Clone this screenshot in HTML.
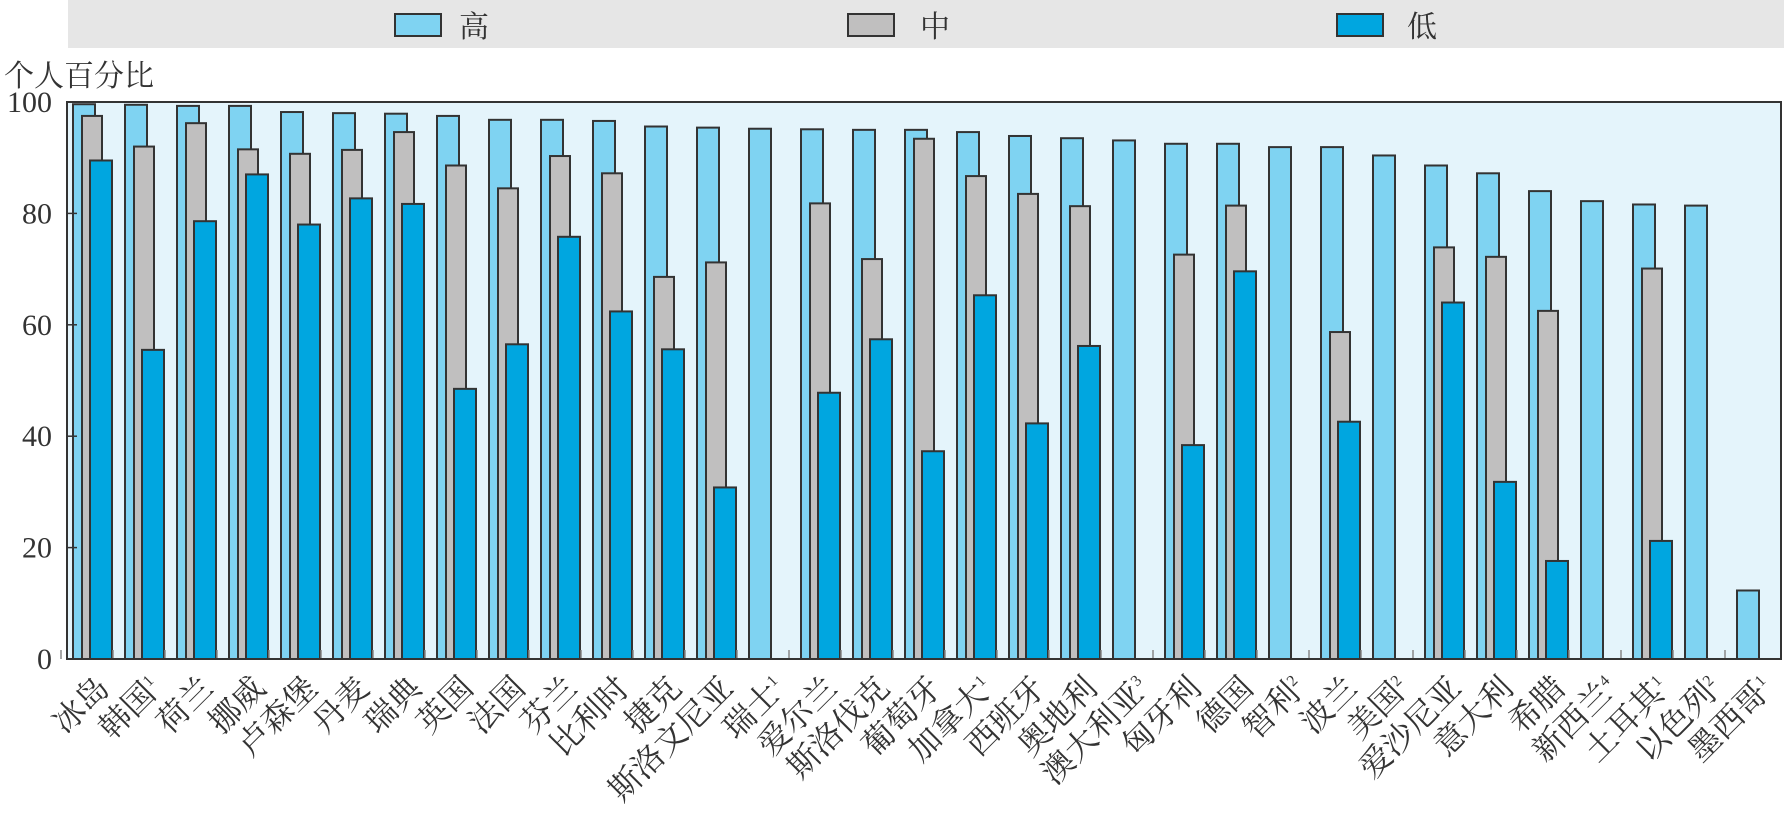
<!DOCTYPE html>
<html><head><meta charset="utf-8"><style>
html,body{margin:0;padding:0;background:#fff;}
svg{display:block;font-family:"Liberation Serif","Noto Serif CJK SC","Noto Sans CJK SC",serif;}
</style></head><body>
<svg width="1784" height="815" viewBox="0 0 1784 815" xmlns="http://www.w3.org/2000/svg">
<rect x="68" y="0" width="1716" height="48" fill="#e6e6e6"/>
<rect x="395" y="14" width="46" height="22" fill="#7fd3f2" stroke="#333" stroke-width="2"/>
<text x="459" y="37" font-size="30" fill="#333">高</text>
<rect x="848" y="14" width="46" height="22" fill="#c0bfbf" stroke="#333" stroke-width="2"/>
<text x="920" y="37" font-size="30" fill="#333">中</text>
<rect x="1337" y="14" width="46" height="22" fill="#00a6e0" stroke="#333" stroke-width="2"/>
<text x="1407" y="37" font-size="30" fill="#333">低</text>
<text x="4" y="86" font-size="30" fill="#333">个人百分比</text>
<rect x="67" y="102" width="1714" height="557" fill="#e4f4fb"/>
<g id="bars"></g>
<rect x="67" y="102" width="1714" height="557" fill="none" stroke="#333" stroke-width="2"/>
<g font-size="30" fill="#333" text-anchor="end" id="ylab"></g>
<g font-size="32" fill="#333" id="xlab"></g>
</svg>
<script>
var d=[["冰岛","",99.6,97.5,89.5],["韩国","1",99.5,92,55.5],["荷兰","",99.3,96.2,78.6],["挪威","",99.3,91.5,87],["卢森堡","",98.2,90.7,78],["丹麦","",98,91.4,82.7],["瑞典","",97.9,94.6,81.7],["英国","",97.5,88.6,48.5],["法国","",96.8,84.5,56.5],["芬兰","",96.8,90.3,75.8],["比利时","",96.6,87.2,62.4],["捷克","",95.6,68.6,55.6],["斯洛文尼亚","",95.4,71.2,30.8],["瑞士","1",95.2,null,null],["爱尔兰","",95.1,81.8,47.8],["斯洛伐克","",95,71.8,57.4],["葡萄牙","",95,93.4,37.3],["加拿大","1",94.6,86.7,65.3],["西班牙","",93.9,83.5,42.3],["奥地利","",93.5,81.3,56.2],["澳大利亚","3",93.1,null,null],["匈牙利","",92.5,72.6,38.4],["德国","",92.5,81.4,69.6],["智利","2",91.9,null,null],["波兰","",91.9,58.7,42.6],["美国","2",90.4,null,null],["爱沙尼亚","",88.6,73.9,64],["意大利","",87.2,72.2,31.8],["希腊","",84,62.5,17.6],["新西兰","4",82.2,null,null],["土耳其","1",81.6,70.1,21.2],["以色列","2",81.4,null,null],["墨西哥","1",12.3,null,null]];
var NS="http://www.w3.org/2000/svg";
function el(p,t,a,txt){var e=document.createElementNS(NS,t);for(var k in a)e.setAttribute(k,a[k]);if(txt!=null)e.textContent=txt;p.appendChild(e);return e;}
var B=659,S=5.57,g=document.getElementById("bars"),xl=document.getElementById("xlab"),yl=document.getElementById("ylab");
function bar(x,w,v,c){if(v==null)return;var h=v*S;el(g,"rect",{x:x,y:B-h,width:w,height:h,fill:c,stroke:"#333","stroke-width":2});}
d.forEach(function(r,i){var x=73+52*i;
el(g,"line",{x1:x-12,y1:B,x2:x-12,y2:B-9,stroke:"#888","stroke-width":1.5});
bar(x,22,r[2],"#7fd3f2");bar(x+9,20,r[3],"#c0bfbf");bar(x+17,22,r[4],"#00a6e0");
var t=el(xl,"text",{transform:"translate("+(x+38)+",690) rotate(-45)","text-anchor":"end"});
t.textContent=r[0];if(r[1]){el(t,"tspan",{"font-size":"16",dy:"-12"},r[1]);}
});
for(var v=0;v<=100;v+=20){var y=B-v*S;el(yl,"text",{x:52,y:y+10},String(v));el(g,"line",{x1:67,y1:y,x2:77,y2:y,stroke:"#333","stroke-width":1.5});}
</script>
</body></html>
